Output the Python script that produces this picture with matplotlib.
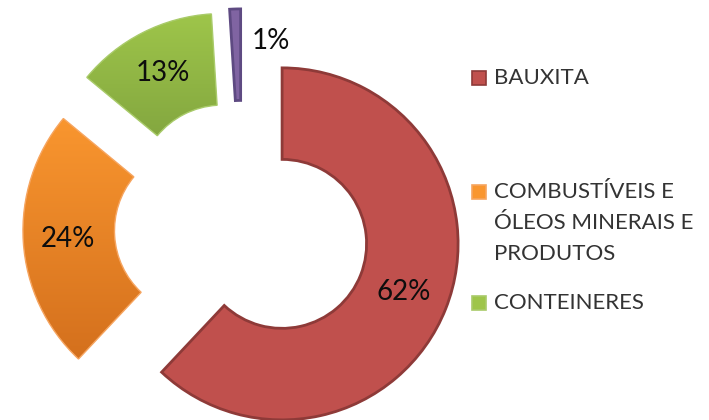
import numpy as np
import matplotlib
matplotlib.use('Agg')
import matplotlib.pyplot as plt
from matplotlib.colors import LinearSegmentedColormap
from matplotlib.patches import Rectangle

# ── Data ──────────────────────────────────────────────────────────────────────
categories = ['BAUXITA', 'COMBUSTÍVEIS E ÓLEOS MINERAIS E PRODUTOS', 'CONTEINERES', 'OUTROS']
shares     = [62, 24, 13, 1]
legend_lines = [['BAUXITA'],
                ['COMBUSTÍVEIS E', 'ÓLEOS MINERAIS E', 'PRODUTOS'],
                ['CONTEINERES']]

# ── Style ─────────────────────────────────────────────────────────────────────
top_col  = ['#C0504D', '#F9962F', '#9EC54A', '#8064A2']
bot_col  = ['#C0504D', '#D4701D', '#789A3B', '#8064A2']
edge_col = ['#8E3A38', '#F6A560', '#A9CB6A', '#5E4A82']
edge_w   = [2.0, 1.0, 1.0, 2.0]
plt.rcParams['font.family'] = ['Lato', 'DejaVu Sans']

W, H, R = 709, 420, 176.0
cx, cy = 242.0, 228.0           # pie centre in pixels (from top-left)

fig = plt.figure(figsize=(W / 100, H / 100), dpi=100)
ax = fig.add_axes([0, 0, 1, 1])

wedges, _ = ax.pie(shares, startangle=90, counterclock=False, radius=1.0,
                   explode=[0.245] * len(shares),
                   wedgeprops=dict(width=0.52),
                   colors=top_col)

for i, w in enumerate(wedges):
    w.set_edgecolor(edge_col[i])
    w.set_linewidth(edge_w[i])
    if top_col[i] != bot_col[i]:
        # vertical gradient clipped to the wedge
        cmap = LinearSegmentedColormap.from_list('g%d' % i, [bot_col[i], top_col[i]])
        grad = np.linspace(0, 1, 256).reshape(-1, 1)
        verts = w.get_path().vertices
        ymin, ymax = verts[:, 1].min(), verts[:, 1].max()
        xmin, xmax = verts[:, 0].min(), verts[:, 0].max()
        im = ax.imshow(grad, cmap=cmap, origin='lower', aspect='auto',
                       extent=[xmin, xmax, ymin, ymax], zorder=w.get_zorder())
        im.set_clip_path(w)
        w.set_facecolor('none')
        w.set_zorder(w.get_zorder() + 0.1)

ax.set_xlim(-cx / R, (W - cx) / R)
ax.set_ylim(-(H - cy) / R, cy / R)
ax.set_aspect('equal')
ax.axis('off')

# ── Percentage labels ─────────────────────────────────────────────────────────
for i, w in enumerate(wedges):
    mid = np.deg2rad((w.theta1 + w.theta2) / 2)
    x0, y0 = w.center
    if shares[i] >= 5:
        rr = 0.745
        ax.text(x0 + rr * np.cos(mid), y0 + rr * np.sin(mid), '%d%%' % shares[i],
                ha='center', va='center', fontsize=20, color='#0d0d0d', zorder=5)
    else:
        ax.text(x0 + 0.17, y0 + 0.82 * np.sin(mid), '%d%%' % shares[i],
                ha='center', va='center', fontsize=20, color='#0d0d0d', zorder=5)

# ── Legend ────────────────────────────────────────────────────────────────────
leg_y = [78, 192, 303]          # first-line centre, pixels from top
line_h = 31
for i, lines in enumerate(legend_lines):
    y = leg_y[i]
    fig.patches.append(Rectangle((472 / W, 1 - (y + 7) / H), 14 / W, 14 / H,
                                 transform=fig.transFigure, zorder=10,
                                 facecolor=top_col[i], edgecolor=edge_col[i],
                                 linewidth=1.2))
    for k, t in enumerate(lines):
        fig.text(494 / W, 1 - (y + k * line_h) / H, t, ha='left', va='center',
                 fontsize=16, color='#333333')

fig.savefig('out.png', dpi=100)
